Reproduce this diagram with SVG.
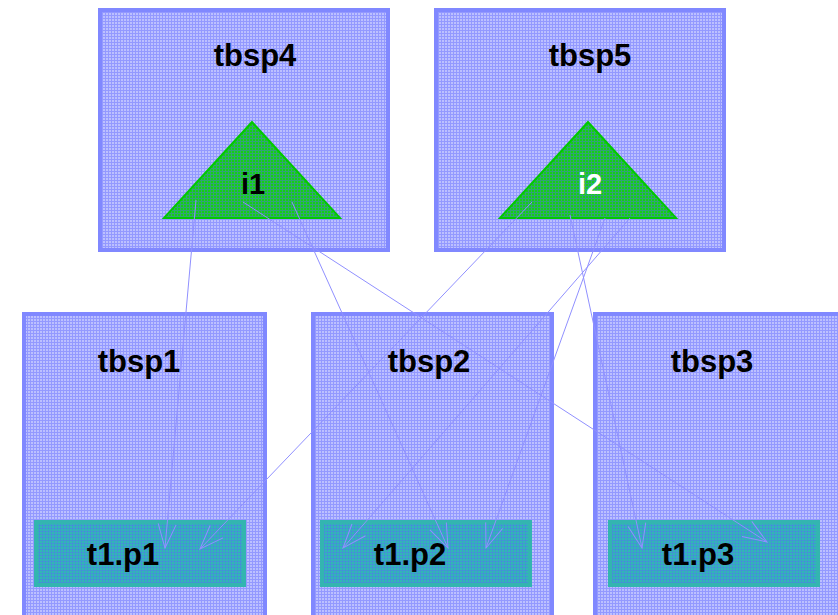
<svg xmlns="http://www.w3.org/2000/svg" width="838" height="615" viewBox="0 0 838 615">
<defs>
<pattern id="grid" width="3" height="3" patternUnits="userSpaceOnUse">
<rect x="0" y="0" width="3" height="1" fill="#5a64ff" fill-opacity="0.42"/>
<rect x="0" y="1" width="1" height="2" fill="#5a64ff" fill-opacity="0.42"/>
</pattern>
<marker id="arr" markerUnits="userSpaceOnUse" markerWidth="30" markerHeight="24" refX="0" refY="0" viewBox="-26 -12 30 24" orient="auto" overflow="visible">
<path d="M-24,-9 L0,0 L-24,9" fill="none" stroke="#9090ff" stroke-width="1"/>
</marker>
</defs>
<style>
.ts{fill:#bcc0ff;stroke:#8088ff;stroke-width:4}
.tri{fill:#14d014;stroke:#00c800;stroke-width:2}
.tab{fill:#30b8b4;stroke:#33b5b0;stroke-width:4}
.ov{fill:url(#grid);stroke:none}
.lbl{font-family:"Liberation Sans",Arial,sans-serif;font-weight:bold;font-size:31px;text-anchor:middle;fill:#000}
.conn{stroke:#9090ff;stroke-width:1;fill:none;marker-end:url(#arr)}
</style>
<rect width="838" height="615" fill="#fff"/>
<g id="tbsp4">
<rect class="ts" x="100" y="10" width="288" height="240"/>
<rect class="ov" x="102" y="12" width="284" height="236"/>
<text class="lbl" x="255" y="66">tbsp4</text>
</g>
<g id="i1">
<polygon class="tri" points="252,122 164,218 340,218"/>
<polygon class="ov" points="252,124 166,217 338,217"/>
<text class="lbl" x="253" y="194" style="font-size:29px">i1</text>
</g>
<g id="tbsp5">
<rect class="ts" x="436" y="10" width="288" height="240"/>
<rect class="ov" x="438" y="12" width="284" height="236"/>
<text class="lbl" x="590" y="66">tbsp5</text>
</g>
<g id="i2">
<polygon class="tri" points="588,122 500,218 676,218"/>
<polygon class="ov" points="588,124 502,217 674,217"/>
<text class="lbl" x="590" y="194" style="fill:#fff;font-size:29px">i2</text>
</g>
<g id="tbsp1">
<rect class="ts" x="24" y="314" width="241" height="310"/>
<rect class="ov" x="26" y="316" width="237" height="306"/>
<text class="lbl" x="139" y="372">tbsp1</text>
</g>
<g id="tbsp2">
<rect class="ts" x="313" y="314" width="239" height="310"/>
<rect class="ov" x="315" y="316" width="235" height="306"/>
<text class="lbl" x="429" y="372">tbsp2</text>
</g>
<g id="tbsp3">
<rect class="ts" x="595" y="314" width="250" height="310"/>
<rect class="ov" x="597" y="316" width="246" height="306"/>
<text class="lbl" x="712" y="372">tbsp3</text>
</g>
<g id="t1.p1">
<rect class="tab" x="36" y="522" width="208" height="63"/>
<rect class="ov" x="38" y="524" width="204" height="59"/>
<text class="lbl" x="123" y="565">t1.p1</text>
</g>
<g id="t1.p2">
<rect class="tab" x="322" y="522" width="208" height="63"/>
<rect class="ov" x="324" y="524" width="204" height="59"/>
<text class="lbl" x="410" y="565">t1.p2</text>
</g>
<g id="t1.p3">
<rect class="tab" x="610" y="522" width="208" height="63"/>
<rect class="ov" x="612" y="524" width="204" height="59"/>
<text class="lbl" x="698" y="565">t1.p3</text>
</g>
<g id="connectors">
<line class="conn" x1="196" y1="200" x2="165" y2="548"/>
<line class="conn" x1="243" y1="202" x2="767" y2="542"/>
<line class="conn" x1="292" y1="202" x2="448" y2="548"/>
<line class="conn" x1="532" y1="202" x2="200" y2="549"/>
<line class="conn" x1="570" y1="215" x2="642" y2="548"/>
<line class="conn" x1="605" y1="218" x2="486" y2="548"/>
<line class="conn" x1="630" y1="218" x2="343" y2="548"/>
</g>
</svg>
